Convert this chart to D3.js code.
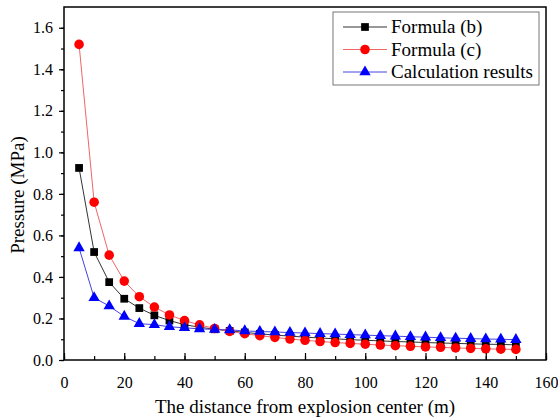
<!DOCTYPE html>
<html><head><meta charset="utf-8">
<script src="https://cdn.jsdelivr.net/npm/d3@7"></script>
<style>body{margin:0;background:#fff}svg{display:block}</style>
</head><body><svg id="c" width="558" height="417"></svg>
<script>
const distances = [5,10,15,20,25,30,35,40,45,50,55,60,65,70,75,80,85,90,95,100,105,110,115,120,125,130,135,140,145,150];
const formulaB = [0.925,0.52,0.375,0.295,0.25,0.215,0.19,0.17,0.158,0.148,0.14,0.133,0.126,0.12,0.115,0.11,0.106,0.102,0.098,0.095,0.092,0.089,0.087,0.084,0.082,0.08,0.078,0.076,0.075,0.073];
const formulaC = [1.52,0.76,0.505,0.38,0.305,0.255,0.217,0.19,0.169,0.152,0.138,0.127,0.117,0.109,0.101,0.095,0.089,0.084,0.08,0.076,0.072,0.069,0.066,0.063,0.061,0.058,0.056,0.054,0.052,0.051];
const calcResults = [0.54,0.30,0.26,0.21,0.175,0.17,0.16,0.155,0.15,0.147,0.145,0.14,0.137,0.135,0.132,0.13,0.127,0.125,0.122,0.12,0.117,0.115,0.112,0.11,0.107,0.105,0.103,0.101,0.1,0.098];
const seriesNames = ["Formula (b)","Formula (c)","Calculation results"];
const xTicks = [0,20,40,60,80,100,120,140,160];
const yTicks = [0.0,0.2,0.4,0.6,0.8,1.0,1.2,1.4,1.6];
const xLabel = "The distance from explosion center (m)";
const yLabel = "Pressure (MPa)";

const FONT = "'Liberation Serif', Tinos, 'Times New Roman', Times, serif";
const svg = d3.select("#c").attr("font-family",FONT);
const L=64,R=546,T=7,B=360;
const x = d3.scaleLinear().domain([0,160]).range([L,R]);
const y = d3.scaleLinear().domain([0,1.7]).range([B,T]);

const series = [
  {name:seriesNames[0], vals:formulaB, color:"#000", line:"#333", sym:d3.symbolSquare, size:60},
  {name:seriesNames[1], vals:formulaC, color:"#f00", line:"#e66", sym:d3.symbolCircle, size:72},
  {name:seriesNames[2], vals:calcResults, color:"#00f", line:"#44d", sym:d3.symbolTriangle, size:56}
];

series.forEach(s=>{
  const pts = distances.map((d,i)=>[d,s.vals[i]]);
  svg.append("path").datum(pts).attr("fill","none").attr("stroke",s.line).attr("stroke-width",1)
    .attr("d",d3.line().x(d=>x(d[0])).y(d=>y(d[1])));
});
series.forEach(s=>{
  const pts = distances.map((d,i)=>[d,s.vals[i]]);
  svg.append("g").selectAll("path").data(pts).join("path")
    .attr("d",d3.symbol().type(s.sym).size(s.size))
    .attr("transform",d=>`translate(${x(d[0])},${y(d[1])})`)
    .attr("fill",s.color);
});

svg.append("rect").attr("x",L).attr("y",T).attr("width",R-L).attr("height",B-T)
  .attr("fill","none").attr("stroke","#000").attr("stroke-width",1.5);

const xa = svg.append("g").attr("transform",`translate(0,${B})`);
xa.call(d3.axisBottom(x).tickValues(d3.range(0,161,10)).tickSize(-4).tickFormat(""));
xa.select(".domain").remove();
const xa2 = svg.append("g").attr("transform",`translate(0,${B})`);
xa2.call(d3.axisBottom(x).tickValues(xTicks).tickSize(-7).tickPadding(17).tickFormat(d3.format("d")));
xa2.select(".domain").remove();

const ya = svg.append("g").attr("transform",`translate(${L},0)`);
ya.call(d3.axisLeft(y).tickValues(d3.range(0,17).map(i=>i/10)).tickSize(3).tickFormat(""));
ya.select(".domain").remove();
const ya2 = svg.append("g").attr("transform",`translate(${L},0)`);
ya2.call(d3.axisLeft(y).tickValues(yTicks).tickSize(5).tickPadding(6).tickFormat(d3.format(".1f")));
ya2.select(".domain").remove();

svg.selectAll("g.tick line").attr("stroke-width",1.2);
[xa,xa2,ya,ya2].forEach(g=>g.attr("font-family",FONT).attr("font-size",16));
svg.selectAll("g.tick text").attr("fill","#000");

svg.append("text").attr("x",(L+R)/2).attr("y",413).attr("text-anchor","middle").attr("font-size",19).text(xLabel);
svg.append("text").attr("transform",`translate(24,195) rotate(-90)`).attr("text-anchor","middle").attr("font-size",19).text(yLabel);

const lg = svg.append("g");
lg.append("rect").attr("x",333).attr("y",12).attr("width",206).attr("height",73)
  .attr("fill","#fff").attr("stroke","#777").attr("stroke-width",1);
series.forEach((s,i)=>{
  const cy = 27 + i*22.5;
  lg.append("line").attr("x1",343).attr("x2",387).attr("y1",cy).attr("y2",cy).attr("stroke",s.line).attr("stroke-width",1);
  lg.append("path").attr("d",d3.symbol().type(s.sym).size(s.size)).attr("transform",`translate(365,${cy})`).attr("fill",s.color);
  lg.append("text").attr("x",391).attr("y",cy+6).attr("font-size",19).text(s.name);
});
</script></body></html>
